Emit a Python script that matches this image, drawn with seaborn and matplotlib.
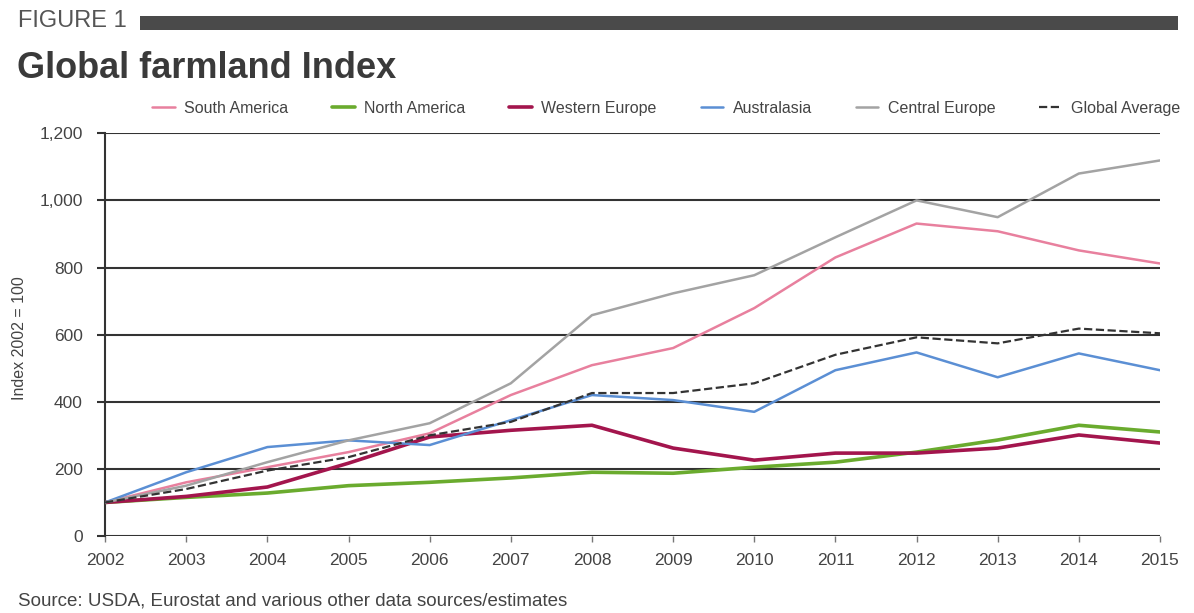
import pandas as pd
import matplotlib
matplotlib.use("Agg")
import matplotlib.pyplot as plt
import seaborn as sns
from matplotlib.patches import Rectangle
from matplotlib.ticker import FuncFormatter

# values (Index 2002 = 100)
years = list(range(2002, 2016))
south_america = [100, 160, 205, 250, 306, 420, 509, 560, 679, 830, 931, 908, 851, 812]
north_america = [100, 115, 128, 150, 160, 173, 190, 187, 205, 220, 250, 286, 330, 310]
western_europe = [100, 118, 146, 217, 295, 315, 330, 262, 226, 247, 247, 262, 301, 277]
australasia = [100, 190, 265, 285, 271, 345, 420, 405, 370, 494, 547, 473, 544, 494]
central_europe = [100, 150, 220, 285, 336, 455, 658, 723, 777, 890, 1000, 950, 1080, 1119]
global_average = [100, 140, 195, 235, 300, 340, 426, 426, 455, 540, 592, 574, 618, 604]

series = {
    "South America": south_america,
    "North America": north_america,
    "Western Europe": western_europe,
    "Australasia": australasia,
    "Central Europe": central_europe,
    "Global Average": global_average,
}
colors = {
    "South America": "#e8809e",
    "North America": "#6aab2e",
    "Western Europe": "#a3154d",
    "Australasia": "#5b8fd4",
    "Central Europe": "#a3a3a3",
    "Global Average": "#333333",
}
widths = {
    "South America": 1.8,
    "North America": 2.6,
    "Western Europe": 2.6,
    "Australasia": 1.8,
    "Central Europe": 1.8,
    "Global Average": 1.6,
}

df = pd.DataFrame(
    [(y, name, v) for name, vals in series.items() for y, v in zip(years, vals)],
    columns=["year", "region", "index"],
)

sns.set_theme(style="white")
plt.rcParams["font.family"] = ["Liberation Sans", "DejaVu Sans"]

fig = plt.figure(figsize=(11.94, 6.13), dpi=100)
ax = fig.add_axes([0.088, 0.1256, 0.8835, 0.657])

for name in series:
    sub = df[df.region == name]
    sns.lineplot(
        data=sub, x="year", y="index", ax=ax,
        color=colors[name], linewidth=widths[name],
        linestyle="--" if name == "Global Average" else "-",
        label=name, zorder=3,
    )

ax.set_xlim(2002, 2015)
ax.set_ylim(0, 1200)
ax.set_yticks(range(0, 1201, 200))
ax.set_xticks(years)
ax.yaxis.set_major_formatter(FuncFormatter(lambda v, p: f"{int(v):,}"))
ax.grid(axis="y", color="#333333", linewidth=1.5)
ax.grid(axis="x", visible=False)
for s in ["top", "right", "bottom"]:
    ax.spines[s].set_visible(False)
ax.spines["left"].set_color("#333333")
ax.spines["left"].set_linewidth(1.5)
ax.set_axisbelow(True)

ax.tick_params(axis="y", which="major", length=6, width=1.5, color="#333333",
               pad=10, labelsize=12.5, labelcolor="#444444", left=True)
ax.tick_params(axis="x", which="major", length=4, width=1, color="#777777",
               pad=8, labelsize=12.5, labelcolor="#444444", bottom=True)

ax.set_xlabel("")
ax.set_ylabel("")
fig.text(20 / 1194, 1 - 338 / 613, "Index 2002 = 100", rotation=90, fontsize=11.5,
         color="#444444", ha="center", va="center")

ax.get_legend().remove()
handles, labels = ax.get_legend_handles_labels()
fig.legend(
    handles, labels, loc="center", bbox_to_anchor=(0.558, 0.823), ncol=6,
    frameon=False, fontsize=11.5, handlelength=1.4, columnspacing=2.75,
    handletextpad=0.6, labelcolor="#444444",
)

# header
fig.text(0.015, 0.966, "FIGURE 1", fontsize=17, color="#555555", va="center")
fig.add_artist(Rectangle((140 / 1194, 1 - 30 / 613), 1038 / 1194, 14 / 613,
                         transform=fig.transFigure, color="#4a4a4a", lw=0))
fig.text(0.014, 0.888, "Global farmland Index", fontsize=26, fontweight="bold",
         color="#3a3a3a", va="center")
fig.text(0.015, 0.02, "Source: USDA, Eurostat and various other data sources/estimates",
         fontsize=13.5, color="#444444", va="center")

plt.savefig("out.png", dpi=100)
